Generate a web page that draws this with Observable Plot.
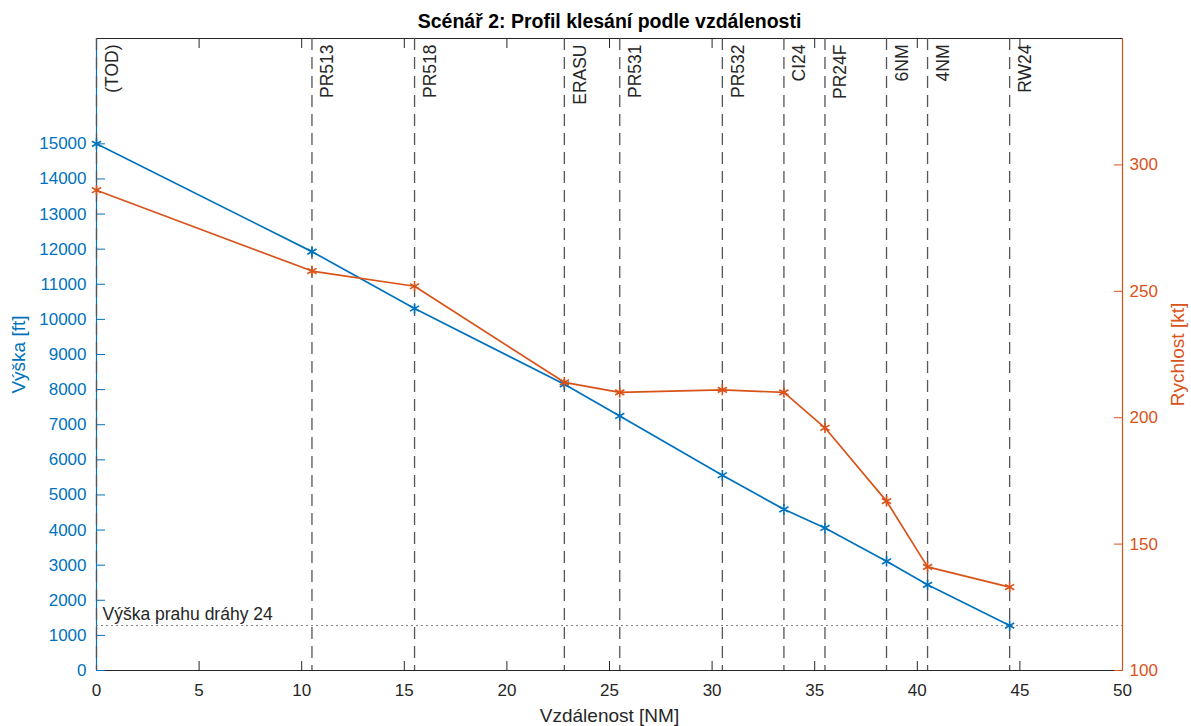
<!DOCTYPE html>
<html><head><meta charset="utf-8">
<script src="https://cdn.jsdelivr.net/npm/d3@7"></script>
<script src="https://cdn.jsdelivr.net/npm/@observablehq/plot@0.6"></script>
<style>body{margin:0;background:#fff} #chart svg{display:block}</style>
</head><body><div id="chart"></div>
<script>
const waypoints = ["(TOD)", "PR513", "PR518", "ERASU", "PR531", "PR532", "CI24", "PR24F", "6NM", "4NM", "RW24"];
const distances = [0, 10.5, 15.5, 22.8, 25.5, 30.5, 33.5, 35.5, 38.5, 40.5, 44.5];
const altitudes = [15000, 11930, 10310, 8150, 7250, 5560, 4590, 4060, 3110, 2440, 1280];
const speeds = [290, 258, 252, 214, 210, 211, 210, 196, 167, 141, 133];
const thresholdAlt = 1280;
const thresholdLabel = "Výška prahu dráhy 24";
const altTicks = [0, 1000, 2000, 3000, 4000, 5000, 6000, 7000, 8000, 9000, 10000, 11000, 12000, 13000, 14000, 15000];
const speedTicks = [100, 150, 200, 250, 300];
const xTicks = [0, 5, 10, 15, 20, 25, 30, 35, 40, 45, 50];
const titleText = "Scénář 2: Profil klesání podle vzdálenosti";
const xLabel = "Vzdálenost [NM]";
const yLabelLeft = "Výška [ft]";
const yLabelRight = "Rychlost [kt]";

const blue = "#0072BD", orange = "#D95319", dark = "#262626";
const altMax = 18000, spdMin = 100, spdMax = 350;
const toLeft = v => (v - spdMin) / (spdMax - spdMin) * altMax;
const fromLeft = a => Math.round(a / altMax * (spdMax - spdMin) + spdMin);
const rows = distances.map((d, i) => ({d, name: waypoints[i], alt: altitudes[i], spd: speeds[i]}));

const chart = Plot.plot({
  width: 1191, height: 726,
  marginLeft: 96, marginRight: 69, marginTop: 38, marginBottom: 56,
  style: {fontFamily: "'Liberation Sans', Arial, Helvetica, sans-serif", fontSize: "17px", background: "#fff", overflow: "visible", color: dark},
  x: {domain: [0, 50]},
  y: {domain: [0, altMax]},
  marks: [
    Plot.ruleY([0, altMax], {stroke: dark, strokeWidth: 1.2}),
    Plot.axisX({anchor: "bottom", ticks: xTicks, tickSize: -9, tickPadding: 22, label: null, color: dark, tickFormat: d => String(d)}),
    Plot.axisX({anchor: "top", ticks: xTicks, tickSize: -9, tickFormat: () => "", label: null, color: dark}),
    Plot.axisY({anchor: "left", ticks: altTicks, tickSize: -9, tickPadding: 19, label: null, color: blue, tickFormat: d => String(d)}),
    Plot.axisY({anchor: "right", ticks: speedTicks.map(toLeft), tickSize: -9, tickPadding: 16, label: null, color: orange, tickFormat: d => String(fromLeft(d))}),
    Plot.ruleX([0], {stroke: blue, strokeWidth: 1.2}),
    Plot.ruleX([50], {stroke: orange, strokeWidth: 1.2}),
    Plot.ruleY([thresholdAlt], {stroke: "#808080", strokeDasharray: "2,3", strokeWidth: 1}),
    Plot.ruleX(rows, {x: "d", stroke: "#555555", strokeDasharray: "12,7", strokeWidth: 1.3}),
    Plot.text(rows, {x: "d", y: altMax, text: "name", rotate: -90, textAnchor: "end", lineAnchor: "top", dx: 9, dy: 6, fill: dark, fontSize: 17.5}),
    Plot.text([thresholdLabel], {x: 0, y: thresholdAlt, text: d => d, textAnchor: "start", lineAnchor: "bottom", dx: 6, dy: -6, fill: dark, fontSize: 17.5}),
    Plot.line(rows, {x: "d", y: "alt", stroke: blue, strokeWidth: 1.7}),
    Plot.dot(rows, {x: "d", y: "alt", symbol: "asterisk", r: 5, stroke: blue, strokeWidth: 1.6}),
    Plot.line(rows, {x: "d", y: r => toLeft(r.spd), stroke: orange, strokeWidth: 1.7}),
    Plot.dot(rows, {x: "d", y: r => toLeft(r.spd), symbol: "asterisk", r: 5, stroke: orange, strokeWidth: 1.6}),
    Plot.text([titleText], {frameAnchor: "top", text: d => d, dy: -17, lineAnchor: "middle", fontWeight: "bold", fontSize: 19.5, fill: "#000"}),
    Plot.text([xLabel], {frameAnchor: "bottom", text: d => d, dy: 45, lineAnchor: "middle", fontSize: 19, fill: dark}),
    Plot.text([yLabelLeft], {frameAnchor: "left", text: d => d, rotate: -90, dx: -85, lineAnchor: "top", textAnchor: "middle", fontSize: 19, fill: blue}),
    Plot.text([yLabelRight], {frameAnchor: "right", text: d => d, rotate: -90, dx: 48, lineAnchor: "top", textAnchor: "middle", fontSize: 19, fill: orange})
  ]
});
document.getElementById("chart").appendChild(chart);
</script>
</body></html>
